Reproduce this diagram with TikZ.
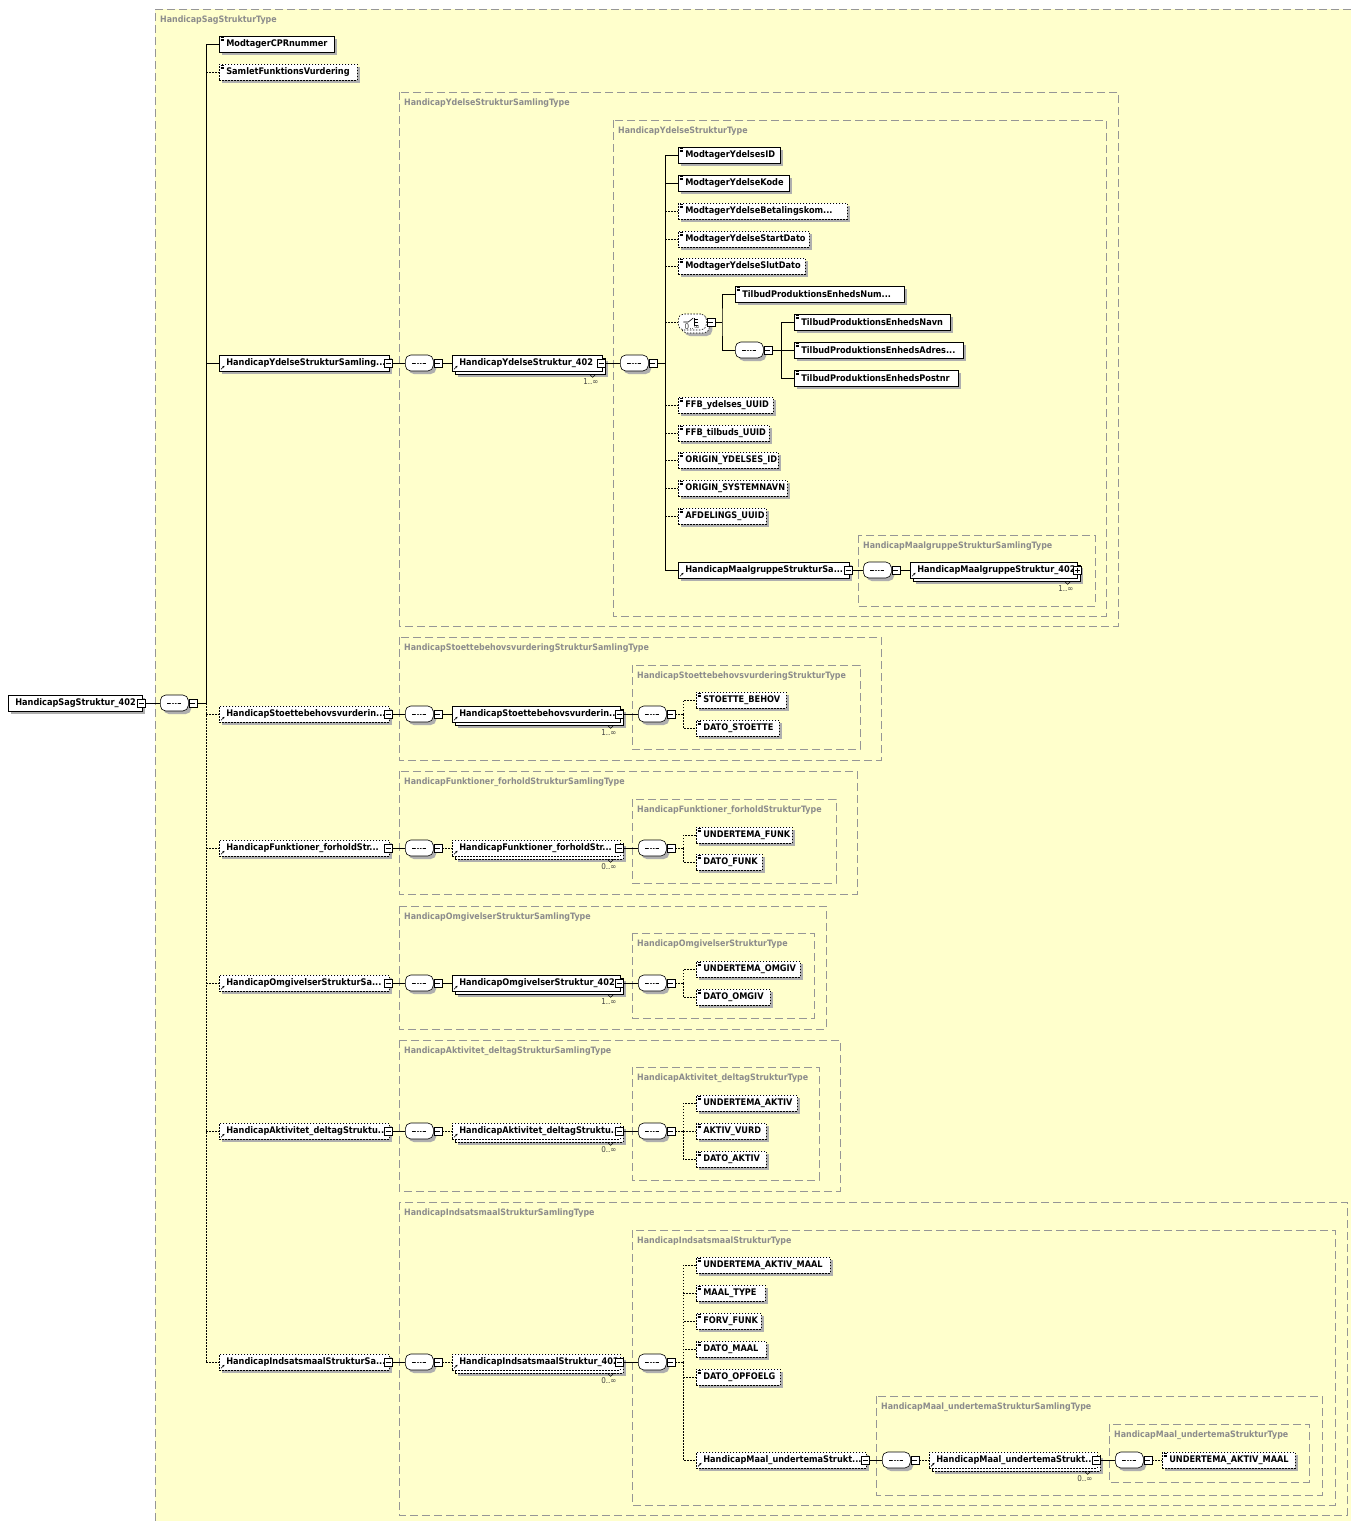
\documentclass[tikz,border=0pt]{standalone}
\usepackage{fontspec}
\setmainfont{DejaVu Sans Condensed}
\usetikzlibrary{shadows,arrows.meta}

\definecolor{grpfill}{RGB}{255,255,204}
\definecolor{grpline}{RGB}{150,150,150}
\definecolor{grptext}{RGB}{140,140,140}
\definecolor{shade}{RGB}{175,175,175}

\newcommand{\trd}{.{}.{}.}

\tikzset{
  el/.style={draw, fill=white, line width=0.6pt, anchor=west, minimum height=16pt,
    inner sep=0pt, text width=#1pt, align=left,
    font=\fontsize{9.1}{11}\selectfont\bfseries, execute at begin node={\hspace*{7pt}}},
  one/.style={drop shadow={shadow xshift=3pt, shadow yshift=-3pt, fill=shade, opacity=1}},
  opt/.style={dash pattern=on 1.5pt off 1.5pt},
  must/.style={one},
  may/.style={opt, one},
  many/.style={drop shadow={shadow xshift=6pt, shadow yshift=-6pt, fill=shade, opacity=1},
    copy shadow={shadow xshift=3pt, shadow yshift=-3pt, draw=black, fill=white}},
  oct/.style={rectangle, rounded corners=5.5pt, draw, fill=white, line width=0.6pt,
    minimum width=28pt, minimum height=16pt, inner sep=0pt},
  seq/.style={oct, one, path picture={
      \coordinate (pc) at (path picture bounding box.center);
      \draw[line width=0.7pt, sharp corners] ([xshift=-7pt]pc) -- ([xshift=7pt]pc);
      \foreach \d in {-2.8,0,2.8} \fill ([xshift=\d pt]pc) circle (1pt);}},
  choice/.style={oct, opt, many, path picture={
      \coordinate (pc) at (path picture bounding box.center);
      \draw[line width=0.6pt, solid, sharp corners] ([xshift=-9pt]pc) -- ([xshift=-4pt]pc) -- ([shift={(1,-4)}]pc);
      \draw[line width=0.6pt, solid] ([shift={(2,-4)}]pc) -- ([shift={(2,4)}]pc);
      \foreach \d in {-3,0,3} \draw[line width=0.6pt, solid] ([shift={(2,\d)}]pc) -- ++(4,0);}},
  mbox/.style={draw, fill=white, line width=0.5pt, minimum size=8pt, inner sep=0pt,
    path picture={\draw[line width=0.5pt] ([xshift=1.5pt]path picture bounding box.west)
      -- ([xshift=-1.5pt]path picture bounding box.east);}},
  pbox/.style={mbox, path picture={
      \draw[line width=0.5pt] ([xshift=1.5pt]path picture bounding box.west)
        -- ([xshift=-1.5pt]path picture bounding box.east);
      \draw[line width=0.5pt] ([yshift=1.5pt]path picture bounding box.south)
        -- ([yshift=-1.5pt]path picture bounding box.north);}},
  mult/.style={font=\fontsize{8}{9}\selectfont, text=black!75, inner sep=0pt, anchor=north east},
  grp/.style={draw=grpline, fill=grpfill, line width=0.6pt, dash pattern=on 8pt off 4pt},
  grptitle/.style={anchor=west, text=grptext, font=\fontsize{8.8}{10}\selectfont\bfseries, inner sep=0pt},
  wire/.style={line width=0.6pt},
  dwire/.style={line width=0.6pt, dash pattern=on 1.5pt off 1.5pt}
}

\newcommand{\simp}[1]{\foreach \q in {1.8,3.2,4.6}
  \draw[line width=0.4pt] ([shift={(1.5,\q)}]#1.north west) -- ++(3.5,0);}
\newcommand{\refi}[1]{\draw[line width=0.6pt, -{Stealth[length=2.2pt,width=2.2pt]}]
  ([shift={(2,-2)}]#1.south west) -- ++(3.5,-3.5);}
\newcommand{\notch}[1]{\draw[line width=0.5pt]
  ([shift={(-13,3)}]#1.south east) -- ++(3,3) -- ++(3,-3);}

\begin{document}
\begin{tikzpicture}[x=1pt, y=-1pt]
\useasboundingbox (0,0) rectangle (1351,1521);

% type boxes
\fill[grpfill] (155,9) rectangle (1351,1521);
\draw[grp, fill=none] (1351,9) -- (155,9) -- (155,1521);
\node[grptitle] (sagT) at (160,20) {HandicapSagStrukturType};
\foreach \xa/\ya/\xb/\yb/\nm [count=\g] in {
    399/92/1118/626/HandicapYdelseStrukturSamlingType,
    613/120/1106/616/HandicapYdelseStrukturType,
    858/535/1095/606/HandicapMaalgruppeStrukturSamlingType,
    399/637/881/760/HandicapStoettebehovsvurderingStrukturSamlingType,
    632/665/860/749/HandicapStoettebehovsvurderingStrukturType,
    399/771/857/894/HandicapFunktioner\_forholdStrukturSamlingType,
    632/799/836/883/HandicapFunktioner\_forholdStrukturType,
    399/906/826/1029/HandicapOmgivelserStrukturSamlingType,
    632/933/814/1018/HandicapOmgivelserStrukturType,
    399/1040/840/1191/HandicapAktivitet\_deltagStrukturSamlingType,
    632/1067/819/1180/HandicapAktivitet\_deltagStrukturType,
    399/1202/1347/1515/HandicapIndsatsmaalStrukturSamlingType,
    632/1230/1335/1505/HandicapIndsatsmaalStrukturType,
    876/1396/1322/1495/HandicapMaal\_undertemaStrukturSamlingType,
    1109/1424/1309/1482/HandicapMaal\_undertemaStrukturType}{
  \draw[grp] (\xa,\ya) rectangle (\xb,\yb);
  \node[grptitle] (grp\g) at (\xa+5,\ya+11) {\nm};
}

% root
\node[el=134, one] (root) at (8,703) {HandicapSagStruktur\_402};
\node[mbox] (root-m) at ([xshift=-1pt]root.east) {};
\node[seq, anchor=west] (s0) at (160,703) {};
\node[mbox, anchor=west] (s0-m) at (s0.east) {};
\coordinate (t0) at (206,703);

\node[el=115, must] (cpr) at (219,44) {ModtagerCPRnummer};
\node[el=138, may] (samlet) at (219,72) {SamletFunktionsVurdering};
\node[el=170, must] (yd-S) at (219,363) {HandicapYdelseStrukturSamling\trd};
\node[el=170, may] (st-S) at (219,714) {HandicapStoettebehovsvurderin\trd};
\node[el=170, may] (fu-S) at (219,848) {HandicapFunktioner\_forholdStr\trd};
\node[el=170, may] (om-S) at (219,983) {HandicapOmgivelserStrukturSa\trd};
\node[el=170, may] (ak-S) at (219,1131) {HandicapAktivitet\_deltagStruktu\trd};
\node[el=170, may] (in-S) at (219,1362) {HandicapIndsatsmaalStrukturSa\trd};
\simp{cpr} \simp{samlet}
\foreach \n in {yd-S,st-S,fu-S,om-S,ak-S,in-S}{
  \node[mbox] (\n-m) at ([xshift=-1.5pt]\n.east) {};
  \refi{\n}
}

\draw[wire] (root-m) -- (s0);
\draw[wire] (s0-m) -- (t0);
\draw[wire] (t0 |- cpr.west) -- (t0);
\draw[dwire] (t0) -- (t0 |- in-S.west);
\foreach \n in {cpr,yd-S} \draw[wire] (t0 |- \n.west) -- (\n.west);
\foreach \n in {samlet,st-S,fu-S,om-S,ak-S,in-S} \draw[dwire] (t0 |- \n.west) -- (\n.west);

% ydelse
\node[seq, anchor=west] (yd-s1) at (405,363) {};
\node[mbox, anchor=west] (yd-s1-m) at (yd-s1.east) {};
\node[el=150, solid, many] (yd-E) at (452,363) {HandicapYdelseStruktur\_402};
\node[mbox] (yd-E-m) at ([xshift=-1.5pt]yd-E.east) {};
\node[mult] (yd-n) at ([shift={(-4,7)}]yd-E.south east) {1..∞};
\refi{yd-E} \notch{yd-E}
\node[seq, anchor=west] (yd-s2) at (620,363) {};
\node[mbox, anchor=west] (yd-s2-m) at (yd-s2.east) {};
\coordinate (yd-j) at (665,363);
\draw[wire] (yd-S-m) -- (yd-s1);
\draw[wire] (yd-s1-m) -- (yd-E);
\draw[wire] (yd-E-m) -- (yd-s2);
\draw[wire] (yd-s2-m) -- (yd-j);

\foreach \i/\y/\w/\s/\lk/\t in {
    1/155/102/must/wire/ModtagerYdelsesID,
    2/183/111/must/wire/ModtagerYdelseKode,
    3/211/169/may/dwire/ModtagerYdelseBetalingskom\trd,
    4/239/131/may/dwire/ModtagerYdelseStartDato,
    5/266/127/may/dwire/ModtagerYdelseSlutDato,
    6/405/95/may/dwire/FFB\_ydelses\_UUID,
    7/433/91/may/dwire/FFB\_tilbuds\_UUID,
    8/460/100/may/dwire/ORIGIN\_YDELSES\_ID,
    9/488/109/may/dwire/ORIGIN\_SYSTEMNAVN,
    10/516/88/may/dwire/AFDELINGS\_UUID}{
  \node[el=\w, \s] (yd-c\i) at (678,\y) {\t};
  \simp{yd-c\i}
  \draw[\lk] (yd-j |- yd-c\i.west) -- (yd-c\i.west);
}

% choice
\node[choice, anchor=west] (ch) at (678,322) {};
\node[mbox, anchor=west] (ch-m) at (ch.east) {};
\node[mult, anchor=north] (ch-n) at ([yshift=7]ch.south) {0..∞};
\coordinate (ch-j) at (722,322);
\node[el=169, must] (tpn) at (735,294) {TilbudProduktionsEnhedsNum\trd};
\simp{tpn}
\node[seq, anchor=west] (ch-s) at (735,350) {};
\node[mbox, anchor=west] (ch-s-m) at (ch-s.east) {};
\coordinate (cs-j) at (781,350);
\draw[dwire] (yd-j |- ch.west) -- (ch);
\draw[wire] (ch-m) -- (ch-j);
\draw[wire] (tpn.west) -| (ch-j) |- (ch-s.west);
\draw[wire] (ch-s-m) -- (cs-j);
\foreach \i/\y/\w/\t in {1/322/156/TilbudProduktionsEnhedsNavn,
    2/350/169/TilbudProduktionsEnhedsAdres\trd,
    3/378/164/TilbudProduktionsEnhedsPostnr}{
  \node[el=\w, must] (tp\i) at (794,\y) {\t};
  \simp{tp\i}
  \draw[wire] (cs-j |- tp\i.west) -- (tp\i.west);
}
\draw[wire] (cs-j |- tp1.west) -- (cs-j |- tp3.west);

% maalgruppe
\node[el=171, must] (mg-S) at (678,570) {HandicapMaalgruppeStrukturSa\trd};
\node[mbox] (mg-S-m) at ([xshift=-1.5pt]mg-S.east) {};
\refi{mg-S}
\node[seq, anchor=west] (mg-s) at (863,570) {};
\node[mbox, anchor=west] (mg-s-m) at (mg-s.east) {};
\node[el=167, solid, many] (mg-E) at (910,570) {HandicapMaalgruppeStruktur\_402};
\node[pbox] (mg-E-p) at (mg-E.east) {};
\node[mult] (mg-n) at ([shift={(-4,7)}]mg-E.south east) {1..∞};
\refi{mg-E} \notch{mg-E}
\draw[wire] (yd-j |- mg-S.west) -- (mg-S.west);
\draw[wire] (yd-j |- yd-c1.west) -- (yd-j |- mg-S.west);
\draw[wire] (mg-S-m) -- (mg-s);
\draw[wire] (mg-s-m) -- (mg-E);

% stoette, funktioner, omgivelser, aktivitet
\foreach \g/\y/\lab/\st/\lk/\mm/\kids in {
    st/714/HandicapStoettebehovsvurderin\trd/solid/wire/1..∞/{STOETTE\_BEHOV/-14/90,DATO\_STOETTE/14/83},
    fu/848/HandicapFunktioner\_forholdStr\trd/opt/dwire/0..∞/{UNDERTEMA\_FUNK/-13/96,DATO\_FUNK/14/66},
    om/983/HandicapOmgivelserStruktur\_402/solid/wire/1..∞/{UNDERTEMA\_OMGIV/-14/104,DATO\_OMGIV/14/74},
    ak/1131/HandicapAktivitet\_deltagStruktu\trd/opt/dwire/0..∞/{UNDERTEMA\_AKTIV/-28/101,AKTIV\_VURD/0/70,DATO\_AKTIV/28/70}}{
  \node[seq, anchor=west] (\g-s1) at (405,\y) {};
  \node[mbox, anchor=west] (\g-s1-m) at (\g-s1.east) {};
  \node[el=168, \st, many] (\g-E) at (452,\y) {\lab};
  \node[mbox] (\g-E-m) at ([xshift=-1.5pt]\g-E.east) {};
  \node[mult] (\g-n) at ([shift={(-4,7)}]\g-E.south east) {\mm};
  \refi{\g-E} \notch{\g-E}
  \node[seq, anchor=west] (\g-s2) at (638,\y) {};
  \node[mbox, anchor=west] (\g-s2-m) at (\g-s2.east) {};
  \coordinate (\g-j) at (683,\y);
  \draw[wire] (\g-S-m) -- (\g-s1);
  \draw[\lk] (\g-s1-m) -- (\g-E);
  \draw[wire] (\g-E-m) -- (\g-s2);
  \draw[dwire] (\g-s2-m) -- (\g-j);
  \foreach \cn/\dy/\cw [count=\i] in \kids {
    \node[el=\cw, may] (\g-c\i) at (696,\y+\dy) {\cn};
    \simp{\g-c\i}
    \draw[dwire] (\g-j) |- (\g-c\i.west);
  }
}

% indsatsmaal
\node[seq, anchor=west] (in-s1) at (405,1362) {};
\node[mbox, anchor=west] (in-s1-m) at (in-s1.east) {};
\node[el=168, opt, many] (in-E) at (452,1362) {HandicapIndsatsmaalStruktur\_402};
\node[mbox] (in-E-m) at ([xshift=-1.5pt]in-E.east) {};
\node[mult] (in-n) at ([shift={(-4,7)}]in-E.south east) {0..∞};
\refi{in-E} \notch{in-E}
\node[seq, anchor=west] (in-s2) at (638,1362) {};
\node[mbox, anchor=west] (in-s2-m) at (in-s2.east) {};
\coordinate (in-j) at (683,1362);
\draw[wire] (in-S-m) -- (in-s1);
\draw[dwire] (in-s1-m) -- (in-E);
\draw[wire] (in-E-m) -- (in-s2);
\draw[dwire] (in-s2-m) -- (in-j);
\foreach \i/\y/\w/\t in {1/1265/134/UNDERTEMA\_AKTIV\_MAAL, 2/1293/69/MAAL\_TYPE,
    3/1321/65/FORV\_FUNK, 4/1349/70/DATO\_MAAL, 5/1377/84/DATO\_OPFOELG}{
  \node[el=\w, may] (in-c\i) at (696,\y) {\t};
  \simp{in-c\i}
  \draw[dwire] (in-j) |- (in-c\i.west);
}

% maal undertema
\node[el=170, may] (mu-S) at (696,1460) {HandicapMaal\_undertemaStrukt\trd};
\node[mbox] (mu-S-m) at ([xshift=-1.5pt]mu-S.east) {};
\refi{mu-S}
\draw[dwire] (in-j) |- (mu-S.west);
\node[seq, anchor=west] (mu-s1) at (882,1460) {};
\node[mbox, anchor=west] (mu-s1-m) at (mu-s1.east) {};
\node[el=168, opt, many] (mu-E) at (929,1460) {HandicapMaal\_undertemaStrukt\trd};
\node[mbox] (mu-E-m) at ([xshift=-1.5pt]mu-E.east) {};
\node[mult] (mu-n) at ([shift={(-5,7)}]mu-E.south east) {0..∞};
\refi{mu-E} \notch{mu-E}
\node[seq, anchor=west] (mu-s2) at (1115,1460) {};
\node[mbox, anchor=west] (mu-s2-m) at (mu-s2.east) {};
\node[el=133, may] (mu-c) at (1162,1460) {UNDERTEMA\_AKTIV\_MAAL};
\simp{mu-c}
\draw[wire] (mu-S-m) -- (mu-s1);
\draw[dwire] (mu-s1-m) -- (mu-E);
\draw[wire] (mu-E-m) -- (mu-s2);
\draw[dwire] (mu-s2-m) -- (mu-c);
\end{tikzpicture}
\end{document}
